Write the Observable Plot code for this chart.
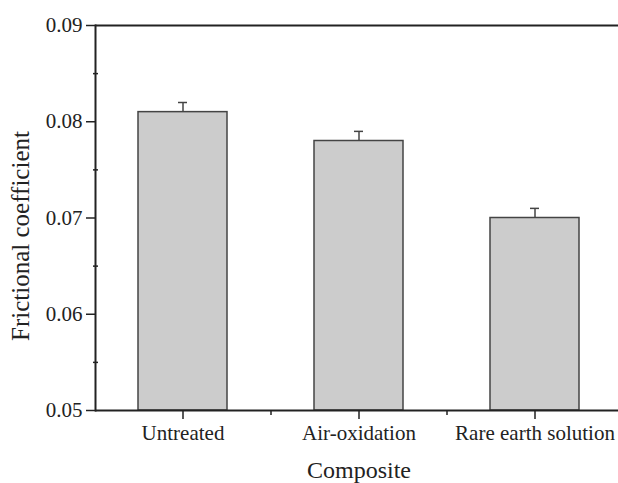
<!DOCTYPE html>
<html>
<head>
<meta charset="utf-8">
<script src="https://cdn.jsdelivr.net/npm/d3@7"></script>
<script src="https://cdn.jsdelivr.net/npm/@observablehq/plot@0.6"></script>
<style>
  html, body { margin: 0; padding: 0; background: #fff; }
  #chart svg, #chart svg text { font-family: "Liberation Serif", "Times New Roman", serif !important; }
</style>
</head>
<body>
<div id="chart"></div>
<script>
const categories = ["Untreated", "Air-oxidation", "Rare earth solution"];
const values = [0.081, 0.078, 0.070];
const errors = [0.001, 0.001, 0.001];
const yTicks = [0.05, 0.06, 0.07, 0.08, 0.09];
const yMinorTicks = [0.055, 0.065, 0.075, 0.085];
const xLabel = "Composite";
const yLabel = "Frictional coefficient";

const data = categories.map((c, i) => ({category: c, value: values[i], err: errors[i]}));
const ink = "#222";
const serif = "Liberation Serif";

const chart = Plot.plot({
  width: 618,
  height: 483,
  marginLeft: 95,
  marginRight: 0,
  marginTop: 25,
  marginBottom: 73,
  style: {fontFamily: serif, fontSize: "21px", color: ink, background: "#fff"},
  x: {domain: categories, range: [95, 622], paddingInner: 0.494, paddingOuter: 0.244},
  y: {domain: [0.05, 0.09]},
  marks: [
    Plot.barY(data, {x: "category", y1: 0.05, y2: "value", fill: "#cccccc", stroke: "#444", strokeWidth: 1.5}),
    Plot.ruleX(data, {x: "category", y1: "value", y2: d => d.value + d.err, stroke: "#444", strokeWidth: 1.5}),
    Plot.tickY(data, {x: "category", y: d => d.value + d.err, stroke: "#444", strokeWidth: 1.5, insetLeft: 40, insetRight: 40}),
    Plot.ruleY([0.05, 0.09], {stroke: ink, strokeWidth: 2}),
    Plot.frame({anchor: "left", stroke: ink, strokeWidth: 2}),
    Plot.axisY(yTicks, {tickSize: 9, tickPadding: 4, tickFormat: d3.format(".2f"), label: null, stroke: ink, strokeWidth: 1.5, fill: ink, fontFamily: serif, fontSize: 21}),
    Plot.axisY(yMinorTicks, {tickSize: 5, tickFormat: () => "", label: null, dx: 3, stroke: ink, strokeWidth: 1.5}),
    Plot.axisX(categories, {tickSize: 9, tickPadding: 6, label: null, stroke: ink, strokeWidth: 1.5, fill: ink, fontFamily: serif, fontSize: 21}),
    Plot.axisX(categories.slice(0, 2), {tickSize: 5, tickFormat: () => "", label: null, dx: 88, stroke: ink, strokeWidth: 1.5}),
    Plot.text([xLabel], {frameAnchor: "bottom", dx: 2, dy: 60, lineAnchor: "middle", fontSize: 24, fill: ink, fontFamily: serif}),
    Plot.text([yLabel], {frameAnchor: "left", rotate: -90, dx: -75, dy: 18, textAnchor: "middle", lineAnchor: "middle", fontSize: 25, fill: ink, fontFamily: serif})
  ]
});
document.getElementById("chart").appendChild(chart);
</script>
</body>
</html>
